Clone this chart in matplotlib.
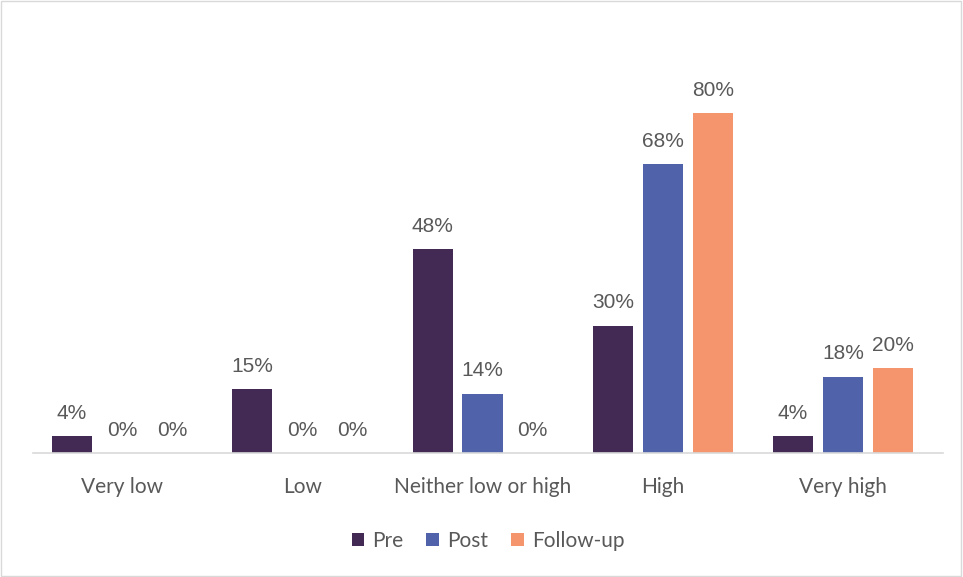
import numpy as np
import matplotlib.pyplot as plt
from matplotlib.patches import Rectangle

# survey responses, share of respondents per level
categories = ["Very low", "Low", "Neither low or high", "High", "Very high"]
pre = [4, 15, 48, 30, 4]
post = [0, 0, 14, 68, 18]
follow_up = [0, 0, 0, 80, 20]

series = [("Pre", pre, "#432A55"),
          ("Post", post, "#4F62AA"),
          ("Follow-up", follow_up, "#F4956E")]

plt.rcParams['font.family'] = ['Lato', 'DejaVu Sans']
txt = "#595959"

fig = plt.figure(figsize=(9.63, 5.77), dpi=100)
ax = fig.add_axes([33 / 963, 1 - 453 / 577, 910 / 963, 382 / 577])

x = np.arange(len(categories))
width = 0.222
offset = 0.277

for i, (name, vals, col) in enumerate(series):
    pos = x + (i - 1) * offset
    bars = ax.bar(pos, vals, width, color=col, label=name, zorder=2)
    for b, v in zip(bars, vals):
        ax.annotate(f"{v}%", (b.get_x() + b.get_width() / 2, v),
                    xytext=(0, 9.5), textcoords="offset points",
                    ha="center", va="bottom", fontsize=15, color=txt,
                    family=['Liberation Sans', 'DejaVu Sans'])

ax.set_xlim(-0.494, 4.555)
ax.set_ylim(0, 90)
ax.set_xticks(x)
ax.set_xticklabels(categories, fontsize=15, color=txt)
ax.tick_params(axis='x', length=0, pad=17)
ax.set_yticks([])
for s in ["top", "right", "left"]:
    ax.spines[s].set_visible(False)
ax.spines["bottom"].set_color("#d9d9d9")
ax.spines["bottom"].set_linewidth(1.2)

leg = fig.legend(loc="center", bbox_to_anchor=(488 / 963, 1 - 541 / 577),
                 ncol=3, frameon=False, fontsize=15, handlelength=0.6,
                 handleheight=0.6, handletextpad=0.4, columnspacing=1.1)
for t in leg.get_texts():
    t.set_color(txt)

# thin frame around the whole chart area
fig.patches.append(Rectangle((0.001, 0.002), 0.997, 0.996, transform=fig.transFigure,
                             fill=False, edgecolor="#d9d9d9", linewidth=1))

fig.savefig("out.png", dpi=100)
